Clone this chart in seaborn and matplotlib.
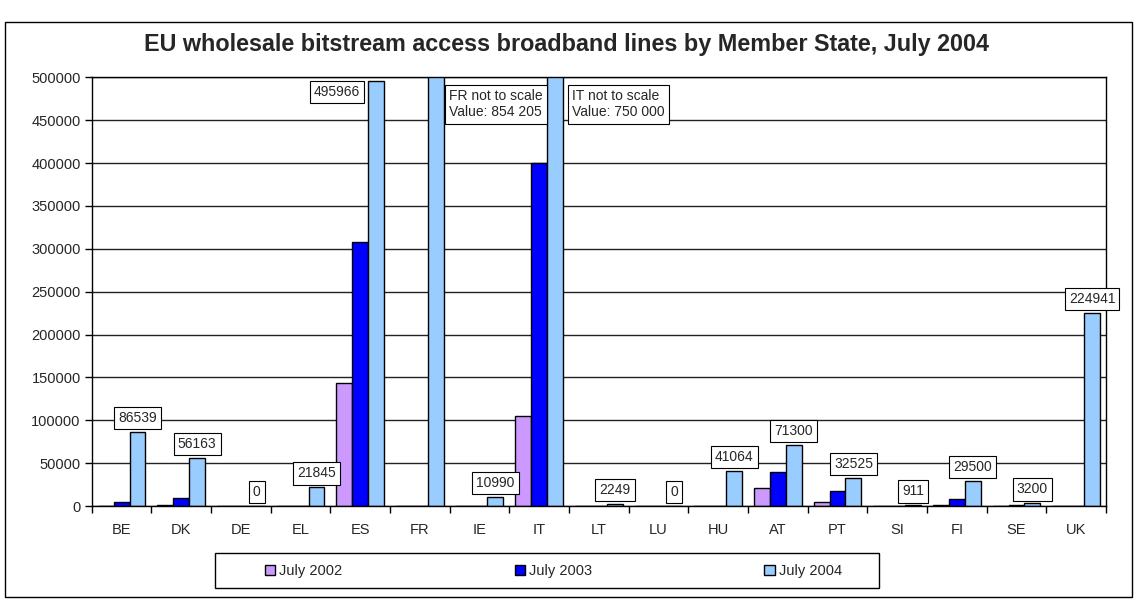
import matplotlib
matplotlib.use("Agg")
import matplotlib.pyplot as plt
import seaborn as sns
import pandas as pd
from matplotlib.patches import Rectangle
from matplotlib.ticker import FuncFormatter, FixedLocator

# data
countries = ['BE', 'DK', 'DE', 'EL', 'ES', 'FR', 'IE', 'IT', 'LT', 'LU',
             'HU', 'AT', 'PT', 'SI', 'FI', 'SE', 'UK']
series_names = ['July 2002', 'July 2003', 'July 2004']
july_2002 = [0, 800, 0, 0, 143000, 0, 0, 105000, 0, 0, 0, 21000, 5000, 0, 1500, 700, 0]
july_2003 = [5000, 10000, 0, 0, 308000, 0, 600, 400000, 0, 0, 0, 40000, 18000, 0, 8000, 1300, 0]
july_2004 = [86539, 56163, 0, 21845, 495966, 854205, 10990, 750000, 2249, 0,
             41064, 71300, 32525, 911, 29500, 3200, 224941]
colors = ['#CC99FF', '#0000FF', '#99CCFF']

df = pd.DataFrame({
    'country': countries * 3,
    'series': [s for s in series_names for _ in countries],
    'value': july_2002 + july_2003 + july_2004,
})

sns.set_style('white')
plt.rcParams['font.family'] = ['Liberation Sans', 'DejaVu Sans']

fig = plt.figure(figsize=(11.34, 5.99), dpi=100)
ax = fig.add_axes([0.0809, 0.155, 0.8944, 0.716])

sns.barplot(data=df, x='country', y='value', hue='series', palette=colors,
            edgecolor='black', linewidth=1, width=0.8, ax=ax, saturation=1)

ax.set_ylim(0, 500000)
ax.set_xlim(-0.5, len(countries) - 0.5)
ax.set_yticks(range(0, 500001, 50000))
ax.yaxis.set_major_formatter(FuncFormatter(lambda v, p: f"{int(v)}"))
ax.yaxis.grid(True, color='#222222', linewidth=1)
ax.set_axisbelow(True)
ax.set_xlabel('')
ax.set_ylabel('')
for sp in ax.spines.values():
    sp.set_color('black')
    sp.set_linewidth(1)
ax.tick_params(axis='y', which='major', direction='out', length=5, width=1,
               left=True, labelsize=10.5, color='black', pad=3)
ax.tick_params(axis='x', which='major', length=0, labelsize=10.5, pad=12)
ax.xaxis.set_minor_locator(FixedLocator([i - 0.5 for i in range(len(countries) + 1)]))
ax.tick_params(axis='x', which='minor', direction='out', length=5, width=1,
               bottom=True, color='black')

# data labels for the July 2004 bars
box = dict(boxstyle='square,pad=0.3', fc='white', ec='black', lw=0.8)
for patch, country, val in zip(ax.containers[2], countries, july_2004):
    left = patch.get_x()
    right = left + patch.get_width()
    mid = left + patch.get_width() / 2
    if country == 'ES':
        ax.annotate(str(val), xy=(left, val), xytext=(-8, -4), textcoords='offset pixels',
                    ha='right', va='top', fontsize=10, bbox=box)
    elif country == 'FR':
        ax.annotate('FR not to scale\nValue: 854 205', xy=(right, 500000), xytext=(5, -12),
                    textcoords='offset pixels', ha='left', va='top', fontsize=10,
                    bbox=box, linespacing=1.2)
    elif country == 'IT':
        ax.annotate('IT not to scale\nValue: 750 000', xy=(right, 500000), xytext=(9, -12),
                    textcoords='offset pixels', ha='left', va='top', fontsize=10,
                    bbox=box, linespacing=1.2)
    else:
        ax.annotate(str(val), xy=(mid, val), xytext=(0, 7), textcoords='offset pixels',
                    ha='center', va='bottom', fontsize=10, bbox=box)

fig.suptitle('EU wholesale bitstream access broadband lines by Member State, July 2004',
             x=0.5, y=0.9265, va='center', fontsize=16.8, fontweight='bold')

# legend in a boxed strip under the axis labels
handles, labels = ax.get_legend_handles_labels()
ax.get_legend().remove()
fig.patches.append(Rectangle((0.19, 0.018), 0.585, 0.058, transform=fig.transFigure,
                             fill=False, ec='black', lw=1))
fig.legend(handles, labels, loc='center', bbox_to_anchor=(0.488, 0.047), ncol=3,
           frameon=False, fontsize=10.5, handlelength=0.7, handleheight=0.7,
           handletextpad=0.3, columnspacing=11.8)

# outer chart border
fig.patches.append(Rectangle((0.004, 0.004), 0.994, 0.96, transform=fig.transFigure,
                             fill=False, ec='black', lw=1))

fig.savefig('out.png', dpi=100)
